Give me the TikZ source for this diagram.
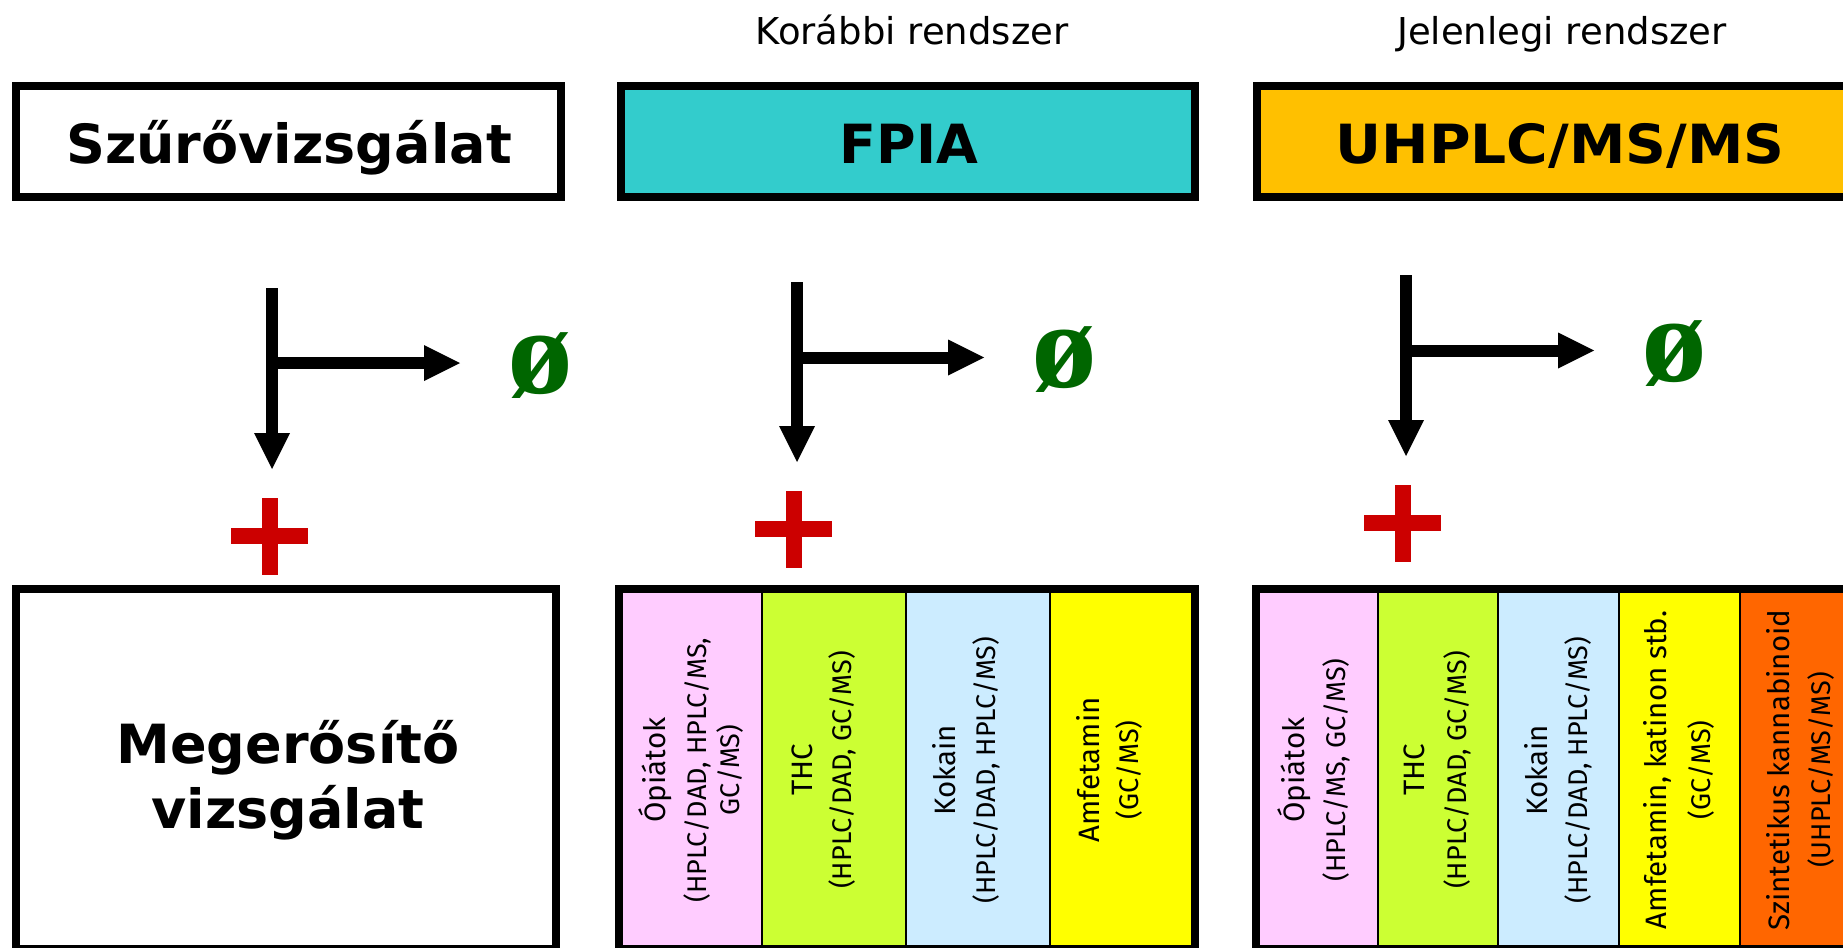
\documentclass[tikz,border=0pt]{standalone}
\usepackage{fontspec}
\setmainfont{DejaVu Sans}
\newfontfamily\cellfont{Fira Sans}
\newfontfamily\emptysetfont{Liberation Serif}
\usetikzlibrary{arrows.meta}
\definecolor{fpiateal}{RGB}{51,204,204}
\definecolor{uhplcgold}{RGB}{255,192,0}
\definecolor{cpink}{RGB}{255,204,255}
\definecolor{clime}{RGB}{204,255,51}
\definecolor{cblue}{RGB}{204,236,255}
\definecolor{cyellow}{RGB}{255,255,0}
\definecolor{corange}{RGB}{255,102,0}
\definecolor{nullgreen}{RGB}{0,102,0}
\definecolor{plusred}{RGB}{204,0,0}
\begin{document}
\begin{tikzpicture}[x=1pt,y=-1pt,
  frame/.style={draw=black,line width=8pt,inner sep=0pt,outer sep=0pt},
  title/.style={font=\fontsize{54}{65}\selectfont\bfseries,inner sep=0pt},
  sys/.style={font=\fontsize{37}{44}\selectfont,anchor=base,inner sep=0pt},
  cellbox/.style={draw=black,line width=2pt},
  cname/.style={rotate=90,font=\cellfont\fontsize{29.5}{34}\selectfont,inner sep=0pt},
  cdet/.style={rotate=90,font=\cellfont\fontsize{27}{33}\selectfont,align=center,inner sep=0pt},
  flow/.style={line width=12pt,-{Triangle[length=36pt,width=36pt,line width=0pt]}},
  nullsym/.style={font=\emptysetfont\bfseries\fontsize{122}{122}\selectfont,text=nullgreen,inner sep=0pt},
]
\useasboundingbox (0,0) rectangle (1843,947);
\fill[white] (0,0) rectangle (1843,947);
\clip (0,0) rectangle (1843,947);

% system labels
\node[sys] (korabbi) at (912,45) {Korábbi rendszer};
\node[sys] (jelenlegi) at (1562,45) {Jelenlegi rendszer};

% top boxes
\node[frame,minimum width=545pt,minimum height=111pt] (b1) at (288.5,141.5) {};
\node[frame,fill=fpiateal,minimum width=574pt,minimum height=111pt] (b2) at (908,141.5) {};
\node[frame,fill=uhplcgold,minimum width=606pt,minimum height=111pt] (b3) at (1560,141.5) {};
\node[title,anchor=base] (t1) at (289,163) {Szűrővizsgálat};
\node[title,anchor=base] (t2) at (909,163) {FPIA};
\node[title,anchor=base] (t3) at (1560,163) {\scalebox{1.05}[1]{UHPLC/MS/MS}};

% arrows column 1
\coordinate (v1s) at (272,288);
\coordinate (v1e) at (272,469);
\coordinate (h1s) at (272,363);
\coordinate (h1e) at (460,363);
\draw[flow] (v1s) -- (v1e);
\draw[flow] (h1s) -- (h1e);
\node[nullsym] (n1) at (540,366) {\scalebox{1.08}[1]{ø}};
\coordinate (p1) at (269.5,536);
\fill[plusred] ([shift={(-38.5,-8)}]p1) rectangle ([shift={(38.5,8)}]p1);
\fill[plusred] ([shift={(-8,-38.5)}]p1) rectangle ([shift={(8,38.5)}]p1);

% arrows column 2
\coordinate (v2s) at (797,282);
\coordinate (v2e) at (797,462);
\coordinate (h2s) at (797,357.5);
\coordinate (h2e) at (984,357.5);
\draw[flow] (v2s) -- (v2e);
\draw[flow] (h2s) -- (h2e);
\node[nullsym] (n2) at (1064.5,360) {\scalebox{1.08}[1]{ø}};
\coordinate (p2) at (793.5,529);
\fill[plusred] ([shift={(-38.5,-8)}]p2) rectangle ([shift={(38.5,8)}]p2);
\fill[plusred] ([shift={(-8,-38.5)}]p2) rectangle ([shift={(8,38.5)}]p2);

% arrows column 3
\coordinate (v3s) at (1406,275);
\coordinate (v3e) at (1406,456);
\coordinate (h3s) at (1406,350.5);
\coordinate (h3e) at (1594,350.5);
\draw[flow] (v3s) -- (v3e);
\draw[flow] (h3s) -- (h3e);
\node[nullsym] (n3) at (1674,353.5) {\scalebox{1.08}[1]{ø}};
\coordinate (p3) at (1402.5,523);
\fill[plusred] ([shift={(-38.5,-8)}]p3) rectangle ([shift={(38.5,8)}]p3);
\fill[plusred] ([shift={(-8,-38.5)}]p3) rectangle ([shift={(8,38.5)}]p3);

% bottom box 1
\node[frame,minimum width=540pt,minimum height=360pt] (b4) at (286,769) {};
\node[title,align=center] (t4) at (288,780) {Megerősítő\\vizsgálat};

% bottom box 2 (FPIA)
\path[cellbox,fill=cpink]   (619,589) rectangle (762,949);
\path[cellbox,fill=clime]   (762,589) rectangle (906,949);
\path[cellbox,fill=cblue]   (906,589) rectangle (1050,949);
\path[cellbox,fill=cyellow] (1050,589) rectangle (1195,949);
\node[frame,minimum width=576pt,minimum height=360pt] (b5) at (907,769) {};
\node[cname] (f1a) at (655,770) {Ópiátok};
\node[cdet]  (f1b) at (714,770) {(HPLC/DAD, HPLC/MS,\\GC/MS)};
\node[cname] (f2a) at (802,770) {THC};
\node[cdet]  (f2b) at (842,770) {(HPLC/DAD, GC/MS)};
\node[cname] (f3a) at (944,770) {Kokain};
\node[cdet]  (f3b) at (986,770) {(HPLC/DAD, HPLC/MS)};
\node[cname] (f4a) at (1088,770) {Amfetamin};
\node[cdet]  (f4b) at (1129,770) {(GC/MS)};

% bottom box 3 (UHPLC)
\path[cellbox,fill=cpink]   (1256,589) rectangle (1378,949);
\path[cellbox,fill=clime]   (1378,589) rectangle (1498,949);
\path[cellbox,fill=cblue]   (1498,589) rectangle (1619,949);
\path[cellbox,fill=cyellow] (1619,589) rectangle (1740,949);
\path[cellbox,fill=corange] (1740,589) rectangle (1863,949);
\node[frame,minimum width=607pt,minimum height=360pt] (b6) at (1559.5,769) {};
\node[cname] (u1a) at (1294,770) {Ópiátok};
\node[cdet]  (u1b) at (1336,770) {(HPLC/MS, GC/MS)};
\node[cname] (u2a) at (1414.5,770) {THC};
\node[cdet]  (u2b) at (1457,770) {(HPLC/DAD, GC/MS)};
\node[cname] (u3a) at (1536,770) {Kokain};
\node[cdet]  (u3b) at (1578,770) {(HPLC/DAD, HPLC/MS)};
\node[cname] (u4a) at (1657,770) {Amfetamin, katinon stb.};
\node[cdet]  (u4b) at (1701,770) {(GC/MS)};
\node[cname] (u5a) at (1778,770) {Szintetikus kannabinoid};
\node[cdet]  (u5b) at (1821,770) {(UHPLC/MS/MS)};
\end{tikzpicture}
\end{document}
